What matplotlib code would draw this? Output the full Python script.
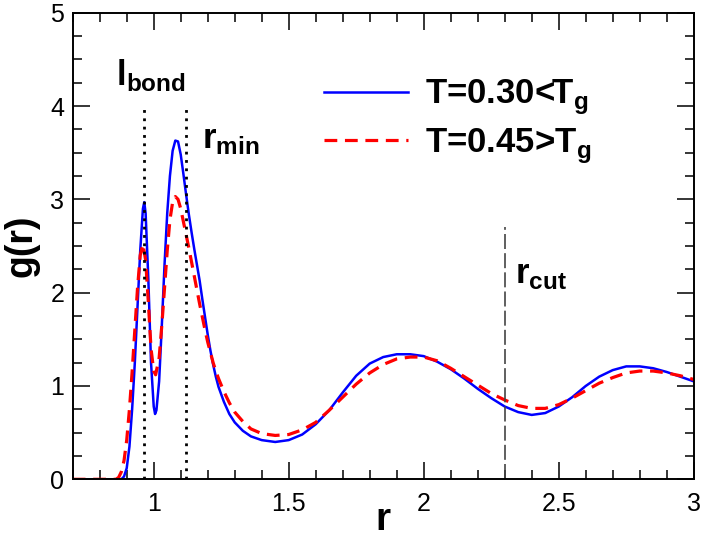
import numpy as np
import matplotlib
matplotlib.use('Agg')
import matplotlib.pyplot as plt
from matplotlib.ticker import MultipleLocator

plt.rcParams['font.family'] = 'Liberation Sans'
plt.rcParams['mathtext.fontset'] = 'custom'
plt.rcParams['mathtext.rm'] = 'Liberation Sans'
plt.rcParams['mathtext.bf'] = 'Liberation Sans:bold'

# g(r), T = 0.30 (below Tg)
r_cold = [0.70, 0.85, 0.88, 0.89, 0.90, 0.91, 0.92, 0.93, 0.94, 0.95, 0.96, 0.965,
          0.97, 0.98, 0.99, 1.00, 1.005, 1.01, 1.02, 1.03, 1.04, 1.05, 1.06, 1.07,
          1.08, 1.09, 1.10, 1.11, 1.12, 1.13, 1.14, 1.15, 1.16, 1.17, 1.18, 1.19,
          1.20, 1.21, 1.22, 1.23, 1.24, 1.26, 1.28, 1.30, 1.33, 1.36, 1.40, 1.45,
          1.50, 1.55, 1.60, 1.65, 1.70, 1.75, 1.80, 1.85, 1.90, 1.95, 2.00, 2.05,
          2.10, 2.15, 2.20, 2.25, 2.30, 2.35, 2.40, 2.45, 2.50, 2.55, 2.60, 2.65,
          2.70, 2.75, 2.80, 2.85, 2.90, 2.95, 3.00]
g_cold = [0.0, 0.0, 0.0, 0.03, 0.12, 0.35, 0.75, 1.25, 1.85, 2.45, 2.90, 2.97,
          2.85, 2.15, 1.25, 0.78, 0.70, 0.74, 1.05, 1.65, 2.30, 2.85, 3.25, 3.52,
          3.63, 3.62, 3.48, 3.27, 3.05, 2.84, 2.65, 2.47, 2.30, 2.13, 1.93, 1.74,
          1.55, 1.38, 1.23, 1.10, 0.99, 0.83, 0.70, 0.61, 0.52, 0.46, 0.42, 0.40,
          0.42, 0.48, 0.59, 0.74, 0.93, 1.11, 1.24, 1.31, 1.34, 1.34, 1.32, 1.26,
          1.18, 1.08, 0.97, 0.87, 0.78, 0.72, 0.69, 0.71, 0.78, 0.88, 1.00, 1.10,
          1.17, 1.21, 1.21, 1.19, 1.15, 1.10, 1.05]

# T = 0.45 (above Tg)
r_hot = [0.70, 0.86, 0.87, 0.88, 0.89, 0.90, 0.91, 0.92, 0.93, 0.94, 0.95, 0.96,
         0.97, 0.98, 0.99, 1.00, 1.007, 1.02, 1.03, 1.04, 1.05, 1.06, 1.07, 1.08,
         1.09, 1.10, 1.11, 1.12, 1.13, 1.14, 1.15, 1.16, 1.17, 1.18, 1.19, 1.20,
         1.21, 1.22, 1.23, 1.24, 1.26, 1.28, 1.30, 1.33, 1.36, 1.40, 1.45, 1.50,
         1.55, 1.60, 1.65, 1.70, 1.75, 1.80, 1.85, 1.90, 1.95, 2.00, 2.05, 2.10,
         2.15, 2.20, 2.25, 2.30, 2.35, 2.40, 2.45, 2.50, 2.55, 2.60, 2.65, 2.70,
         2.75, 2.80, 2.85, 2.90, 2.95, 3.00]
g_hot = [0.0, 0.0, 0.02, 0.08, 0.20, 0.42, 0.75, 1.15, 1.60, 2.05, 2.40, 2.52,
         2.35, 1.90, 1.40, 1.16, 1.12, 1.30, 1.65, 2.05, 2.45, 2.78, 2.97, 3.03,
         3.00, 2.90, 2.76, 2.62, 2.48, 2.33, 2.18, 2.03, 1.88, 1.74, 1.60, 1.47,
         1.36, 1.25, 1.16, 1.08, 0.94, 0.82, 0.72, 0.62, 0.54, 0.49, 0.47, 0.48,
         0.53, 0.61, 0.74, 0.88, 1.02, 1.14, 1.23, 1.29, 1.31, 1.31, 1.27, 1.19,
         1.10, 1.01, 0.92, 0.85, 0.79, 0.76, 0.76, 0.80, 0.87, 0.95, 1.03, 1.09,
         1.14, 1.16, 1.16, 1.14, 1.11, 1.07]

labels = ['T=0.30<T$_\\mathbf{g}$', 'T=0.45>T$_\\mathbf{g}$']

l_bond = 0.965
r_min = 1.12
r_cut = 2.3
r_cut_top = 2.7
dotted_top = 4.0

fig = plt.figure(figsize=(7.02, 5.43), dpi=100)
ax = fig.add_axes([0.1036, 0.1173, 0.8846, 0.8593])

ax.plot(r_cold, g_cold, color='#0000ff', lw=1.8, label=labels[0])
ax.plot(r_hot, g_hot, color='#ff0000', lw=2.3, dashes=(4, 2.4), label=labels[1])

ax.plot([l_bond, l_bond], [0, dotted_top], color='black', lw=2, dashes=(1, 2))
ax.plot([r_min, r_min], [0, dotted_top], color='black', lw=2, dashes=(1, 2))
ax.plot([r_cut, r_cut], [0, r_cut_top], color='#444444', lw=1.2, dashes=(9, 2.5))

ax.text(0.86, 4.22, 'l$_\\mathbf{bond}$', fontsize=25, fontweight='bold')
ax.text(1.178, 3.55, 'r$_\\mathbf{min}$', fontsize=25, fontweight='bold')
ax.text(2.338, 2.1, 'r$_\\mathbf{cut}$', fontsize=25, fontweight='bold')

leg = ax.legend(loc='upper left', bbox_to_anchor=(0.377, 0.898), frameon=False,
                prop={'size': 25, 'weight': 'bold'}, handlelength=2.4,
                handletextpad=0.5, labelspacing=0.28, borderpad=0)

ax.set_xlim(0.7, 3)
ax.set_ylim(0, 5)
ax.xaxis.set_minor_locator(MultipleLocator(0.1))
ax.yaxis.set_major_locator(MultipleLocator(1))
ax.yaxis.set_minor_locator(MultipleLocator(0.25))
ax.set_xticks([1, 1.5, 2, 2.5, 3])
ax.set_xticklabels(['1', '1.5', '2', '2.5', '3'])
ax.tick_params(which='both', direction='in', top=True, right=True, width=1.1)
ax.tick_params(which='major', length=12, labelsize=18)
ax.tick_params(which='minor', length=6.5)
ax.tick_params(axis='x', which='major', pad=9)
ax.tick_params(axis='y', which='major', pad=6)
for s in ax.spines.values():
    s.set_linewidth(1.4)

ax.set_xlabel('r', fontsize=28, fontweight='bold', labelpad=-10)
ax.set_ylabel('g(r)', fontsize=27, fontweight='bold', labelpad=8)

fig.savefig('out.png', dpi=100)
